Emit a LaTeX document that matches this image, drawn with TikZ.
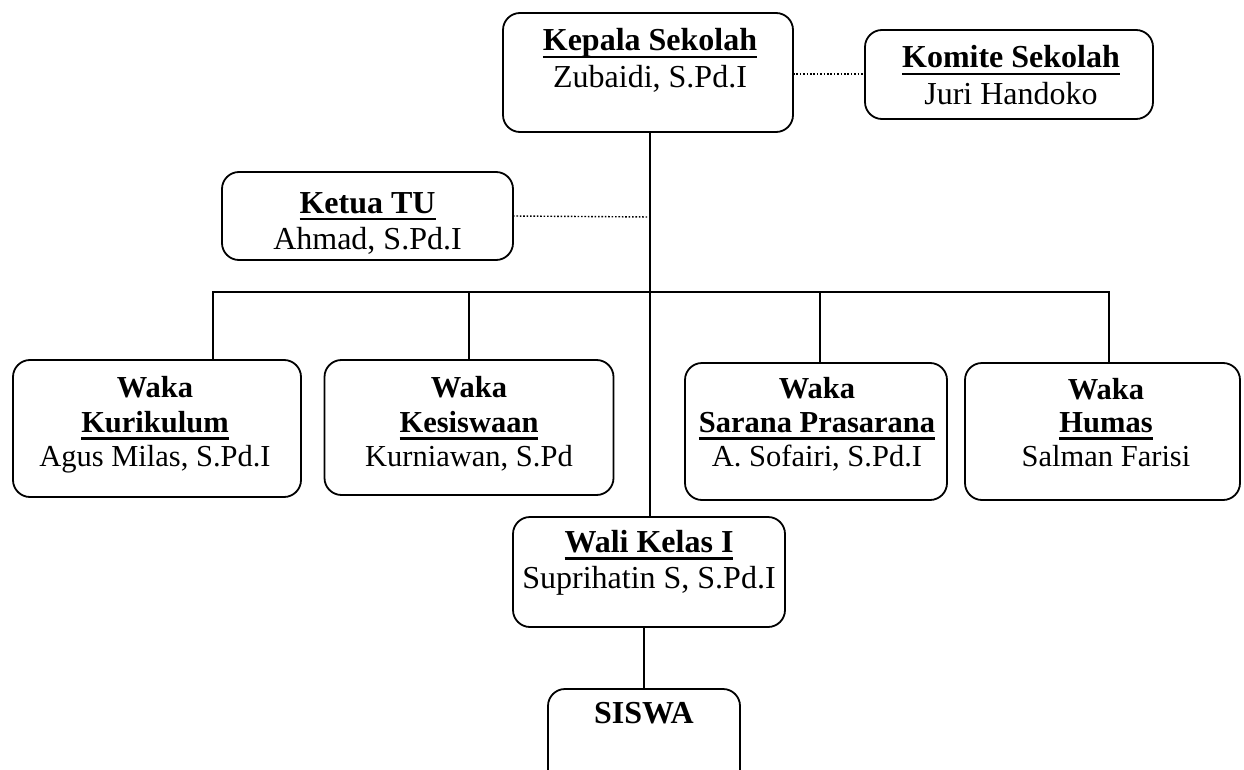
\documentclass[tikz,border=0pt]{standalone}
\usepackage{fontspec}
\setmainfont{Liberation Serif}
\newcommand{\ulin}[1]{\leavevmode\setbox0\hbox{#1}\rlap{\rule[-7.5pt]{\wd0}{2.4pt}}\box0}
\tikzset{
  box/.style={draw, line width=1.8pt, rounded corners=17pt, inner sep=0pt, outer sep=0pt},
  txt/.style={font=\fontsize{32}{38}\selectfont, inner sep=0pt, anchor=base},
  btxt/.style={txt, font=\fontsize{32}{38}\selectfont\bfseries},
  stxt/.style={txt, font=\fontsize{30.5}{36}\selectfont},
  sbtxt/.style={txt, font=\fontsize{30.5}{36}\selectfont\bfseries},
  conn/.style={line width=1.8pt},
  dotconn/.style={line width=1.4pt, dash pattern=on 1.6pt off 1.8pt}
}
\begin{document}
\begin{tikzpicture}[x=1pt,y=-1pt]
\clip (0,0) rectangle (1244,770);
\fill[white] (0,0) rectangle (1244,770);
% boxes
\node[box, minimum width=290pt, minimum height=119pt] (kepala) at (648,72.5) {};
\node[box, minimum width=288pt, minimum height=89pt] (komite) at (1009,74.5) {};
\node[box, minimum width=291pt, minimum height=88pt] (ketua) at (367.5,216) {};
\node[box, minimum width=288pt, minimum height=137pt] (kur) at (157,428.5) {};
\node[box, minimum width=289pt, minimum height=135pt] (kes) at (469,427.5) {};
\node[box, minimum width=262pt, minimum height=137pt] (sar) at (816,431.5) {};
\node[box, minimum width=275pt, minimum height=137pt] (hum) at (1102.5,431.5) {};
\node[box, minimum width=272pt, minimum height=110pt] (wali) at (649,572) {};
\node[box, minimum width=192pt, minimum height=102pt] (siswa) at (644,740) {};
% texts
\node[btxt] (t1) at (650,51) {\ulin{Kepala Sekolah}};
\node[txt] (n1) at (650,88) {Zubaidi, S.Pd.I};
\node[btxt] (t2) at (1011,68) {\ulin{Komite Sekolah}};
\node[txt] (n2) at (1011,105) {Juri Handoko};
\node[btxt] (t3) at (367.5,213) {\ulin{Ketua TU}};
\node[txt] (n3) at (367.5,249) {Ahmad, S.Pd.I};
\node[sbtxt] (w4) at (155,397) {Waka};
\node[sbtxt] (t4) at (155,432) {\ulin{Kurikulum}};
\node[stxt] (n4) at (155,466) {Agus Milas, S.Pd.I};
\node[sbtxt] (w5) at (469,397) {Waka};
\node[sbtxt] (t5) at (469,432) {\ulin{Kesiswaan}};
\node[stxt] (n5) at (469,466) {Kurniawan, S.Pd};
\node[sbtxt] (w6) at (817,398) {Waka};
\node[sbtxt] (t6) at (817,432) {\ulin{Sarana Prasarana}};
\node[stxt] (n6) at (817,466) {A. Sofairi, S.Pd.I};
\node[sbtxt] (w7) at (1106,399) {Waka};
\node[sbtxt] (t7) at (1106,432) {\ulin{Humas}};
\node[stxt] (n7) at (1106,466) {Salman Farisi};
\node[btxt] (t8) at (649,552) {\ulin{Wali Kelas I}};
\node[txt] (n8) at (649,588) {Suprihatin S, S.Pd.I};
\node[btxt] (t9) at (644,723) {SISWA};
% connectors
\coordinate (bus) at (650,292);
\coordinate (tuj) at (650,217);
\coordinate (kom) at (865,74);
\draw[conn] (kepala.south -| bus) -- (wali.north -| bus);
\draw[conn] (kur.north -| 213,0) |- (bus) -| (hum.north -| 1109,0);
\draw[conn] (kes.north -| 469,0) -- (469,292);
\draw[conn] (sar.north -| 820,0) -- (820,292);
\draw[dotconn] (kepala.east |- kom) -- (kom);
\draw[dotconn] (ketua.east) -- (tuj);
\draw[conn] (wali.south -| siswa.north) -- (siswa.north);
\end{tikzpicture}
\end{document}
